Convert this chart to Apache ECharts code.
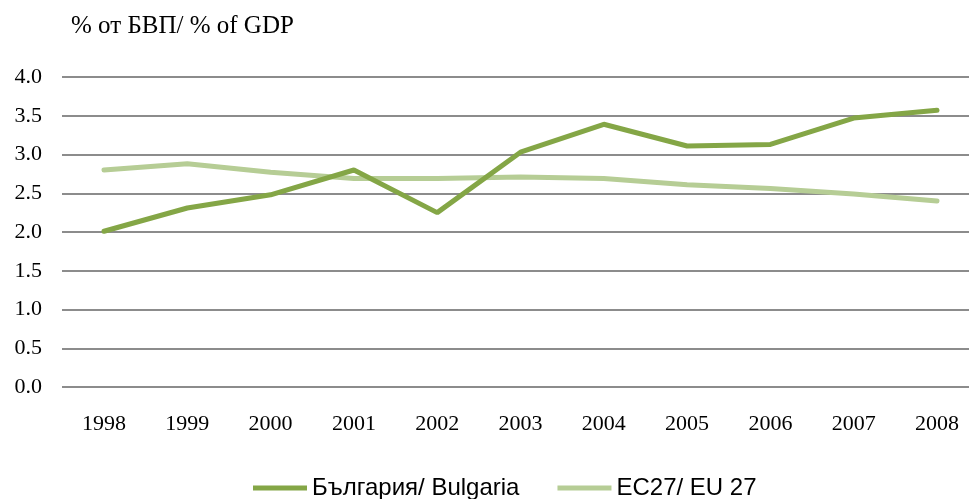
<!DOCTYPE html>
<html>
<head>
<meta charset="utf-8">
<script src="https://cdn.jsdelivr.net/npm/echarts@6/dist/echarts.min.js"></script>
<style>
  html, body { margin: 0; padding: 0; background: #fff; }
  #chart { width: 969px; height: 499px; }
</style>
</head>
<body>
<div id="chart"></div>
<script type="text/javascript">
    var years = ['1998', '1999', '2000', '2001', '2002', '2003', '2004', '2005', '2006', '2007', '2008'];
    var bulgaria = [2.01, 2.31, 2.48, 2.80, 2.25, 3.03, 3.39, 3.11, 3.13, 3.47, 3.57];
    var eu27 = [2.80, 2.88, 2.77, 2.69, 2.69, 2.71, 2.69, 2.61, 2.56, 2.49, 2.40];
    var seriesNames = ['България/ Bulgaria', 'ЕС27/ EU 27'];

    var serif = 'Liberation Serif';
    var myChart = echarts.init(document.getElementById('chart'));
    var option = {
        animation: false,
        title: {
            text: '% от БВП/ % of GDP',
            left: 66,
            top: 9,
            textStyle: { fontFamily: serif, fontWeight: 'normal', fontSize: 25, color: '#000' }
        },
        legend: {
            data: seriesNames,
            top: 471,
            left: 248,
            itemWidth: 54,
            itemHeight: 5,
            itemGap: 38,
            icon: 'rect',
            textStyle: { fontFamily: 'Liberation Sans', fontSize: 24, color: '#000' }
        },
        // grid 0 holds the lines, grid 1 only the horizontal rules and y labels
        grid: [
            { left: 104, top: 77, width: 833, height: 310 },
            { left: 62, top: 77, right: 0, height: 310 }
        ],
        xAxis: [
            {
                type: 'category',
                gridIndex: 0,
                data: years,
                boundaryGap: false,
                axisLine: { show: false },
                axisTick: { show: false },
                axisLabel: { margin: 26, fontFamily: serif, fontSize: 22, color: '#000' }
            },
            {
                type: 'value',
                gridIndex: 1,
                show: false
            }
        ],
        yAxis: [
            {
                type: 'value',
                gridIndex: 0,
                min: 0,
                max: 4,
                interval: 0.5,
                show: false,
                splitLine: { show: false }
            },
            {
                type: 'value',
                gridIndex: 1,
                min: 0,
                max: 4,
                interval: 0.5,
                axisLine: { show: false },
                axisTick: { show: false },
                axisLabel: {
                    margin: 20,
                    fontFamily: serif,
                    fontSize: 22,
                    color: '#000',
                    formatter: function (v) { return v.toFixed(1); }
                },
                splitLine: { lineStyle: { color: '#8c8c8c', width: 2 } }
            }
        ],
        series: [
            {
                name: seriesNames[0],
                type: 'line',
                data: bulgaria,
                symbol: 'none',
                lineStyle: { color: '#84a646', width: 5, cap: 'round' },
                itemStyle: { color: '#84a646' },
                z: 3
            },
            {
                name: seriesNames[1],
                type: 'line',
                data: eu27,
                symbol: 'none',
                lineStyle: { color: '#b6cd95', width: 5, cap: 'round' },
                itemStyle: { color: '#b6cd95' },
                z: 2
            }
        ]
    };
    myChart.setOption(option);
</script>
</body>
</html>
